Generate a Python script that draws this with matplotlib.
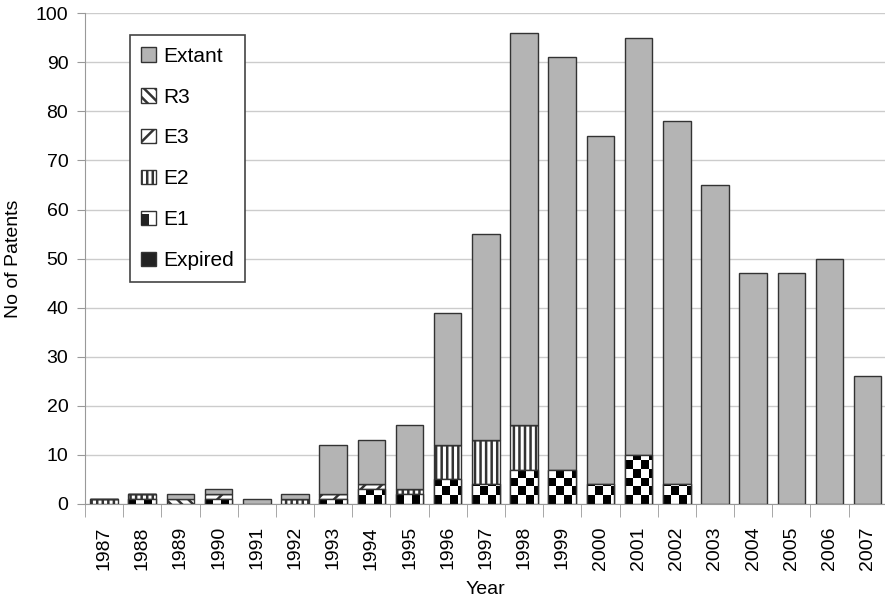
import matplotlib
matplotlib.use("Agg")
import matplotlib.pyplot as plt
from matplotlib.patches import Rectangle, Patch
import numpy as np

years = [str(y) for y in range(1987, 2008)]
expired = [0, 0, 0, 0, 0, 0, 0, 0, 0, 0, 0, 0, 0, 0, 0, 0, 0, 0, 0, 0, 0]
e1 = [0, 1, 0, 1, 0, 0, 1, 3, 2, 5, 4, 7, 7, 4, 10, 4, 0, 0, 0, 0, 0]
e2 = [1, 1, 0, 0, 0, 1, 0, 0, 1, 7, 9, 9, 0, 0, 0, 0, 0, 0, 0, 0, 0]
e3 = [0, 0, 0, 1, 0, 0, 1, 1, 0, 0, 0, 0, 0, 0, 0, 0, 0, 0, 0, 0, 0]
r3 = [0, 0, 1, 0, 0, 0, 0, 0, 0, 0, 0, 0, 0, 0, 0, 0, 0, 0, 0, 0, 0]
extant = [0, 0, 1, 1, 1, 1, 10, 9, 13, 27, 42, 80, 84, 71, 85, 74, 65, 47, 47, 50, 26]

plt.rcParams['font.family'] = ['Liberation Sans', 'DejaVu Sans']
plt.rcParams['hatch.linewidth'] = 1.8

edge = '#333333'
grey = '#b4b4b4'
fs = 14

fig = plt.figure(figsize=(8.85, 6), dpi=100)
ax = fig.add_axes([0.096, 0.16, 0.906, 0.818])

x = np.arange(len(years))
w = 0.72
bottom = np.zeros(len(years))

# expired
ax.bar(x, expired, w, bottom=bottom, color='#222222', edgecolor=edge, linewidth=1, zorder=3)
bottom += expired

# E1: checkerboard drawn as a clipped image
e1_bars = ax.bar(x, e1, w, bottom=bottom, color='white', edgecolor=edge, linewidth=1, zorder=3)
sq = 1.75
for i, p in enumerate(e1_bars):
    if e1[i] == 0:
        continue
    rows = int(np.ceil(e1[i] / sq))
    cols = 4
    chk = (np.add.outer(np.arange(rows), np.arange(cols)) % 2).astype(float)
    y0 = bottom[i]
    # 3.5 columns visible across the bar, like the reference
    im = ax.imshow(chk[::-1], cmap='gray', vmin=0, vmax=1, interpolation='nearest',
                   extent=(x[i] - w / 2, x[i] + w / 2 + w / 7, y0, y0 + rows * sq),
                   aspect='auto', zorder=3.1)
    im.set_clip_path(p)
    ax.bar(x[i], e1[i], w, bottom=y0, fill=False, edgecolor=edge, linewidth=1, zorder=3.2)
bottom += e1

ax.bar(x, e2, w, bottom=bottom, color='white', edgecolor=edge, hatch='|||', linewidth=1, zorder=3)
bottom += e2
ax.bar(x, e3, w, bottom=bottom, color='white', edgecolor=edge, hatch='//', linewidth=1, zorder=3)
bottom += e3
ax.bar(x, r3, w, bottom=bottom, color='white', edgecolor=edge, hatch='\\\\\\', linewidth=1, zorder=3)
bottom += r3
ax.bar(x, extant, w, bottom=bottom, color=grey, edgecolor=edge, linewidth=1, zorder=3)

ax.set_xlim(-0.5, len(years) - 0.5)
ax.set_ylim(0, 100)
ax.set_yticks(range(0, 101, 10))
ax.yaxis.grid(True, color='#cccccc', linewidth=1)
ax.set_axisbelow(True)
for s in ['top', 'right']:
    ax.spines[s].set_visible(False)
ax.spines['left'].set_color('#999999')
ax.spines['bottom'].set_color('#999999')

ax.set_xticks(x)
ax.set_xticklabels(years, rotation=90)
ax.set_xticks(np.arange(-0.5, len(years)), minor=True)
ax.tick_params(axis='x', which='major', length=0, pad=16, labelsize=fs)
ax.tick_params(axis='x', which='minor', length=9, color='#999999')
ax.tick_params(axis='y', length=6, color='#999999', labelsize=fs, pad=6)

ax.set_xlabel('Year', fontsize=fs, labelpad=8)
ax.set_ylabel('No of Patents', fontsize=fs, labelpad=10)


class CheckerHandler:
    def legend_artist(self, legend, orig_handle, fontsize, handlebox):
        x0, y0 = -handlebox.xdescent, -handlebox.ydescent
        hw, hh = handlebox.width, handlebox.height
        t = handlebox.get_transform()
        handlebox.add_artist(Rectangle((x0, y0), hw, hh, facecolor='white',
                                       edgecolor=edge, transform=t))
        handlebox.add_artist(Rectangle((x0, y0), hw * 0.5, hh * 0.75, facecolor='#222222',
                                       edgecolor='none', transform=t))
        return handlebox


h_ext = Patch(facecolor=grey, edgecolor=edge)
h_r3 = Patch(facecolor='white', edgecolor=edge, hatch='\\\\\\')
h_e3 = Patch(facecolor='white', edgecolor=edge, hatch='//')
h_e2 = Patch(facecolor='white', edgecolor=edge, hatch='|||')
h_e1 = Patch(facecolor='white', edgecolor=edge)
h_exp = Patch(facecolor='#222222', edgecolor=edge)

leg = ax.legend([h_ext, h_r3, h_e3, h_e2, h_e1, h_exp],
                ['Extant', 'R3', 'E3', 'E2', 'E1', 'Expired'],
                loc='upper left', bbox_to_anchor=(0.056, 0.955), borderaxespad=0,
                handler_map={h_e1: CheckerHandler()},
                fontsize=15, labelspacing=1.05, handlelength=0.7, handleheight=0.7,
                handletextpad=0.35, borderpad=0.55, fancybox=False, framealpha=1,
                edgecolor='#444444')
leg.get_frame().set_linewidth(1.2)

plt.savefig('out.png', dpi=100)
plt.close()
